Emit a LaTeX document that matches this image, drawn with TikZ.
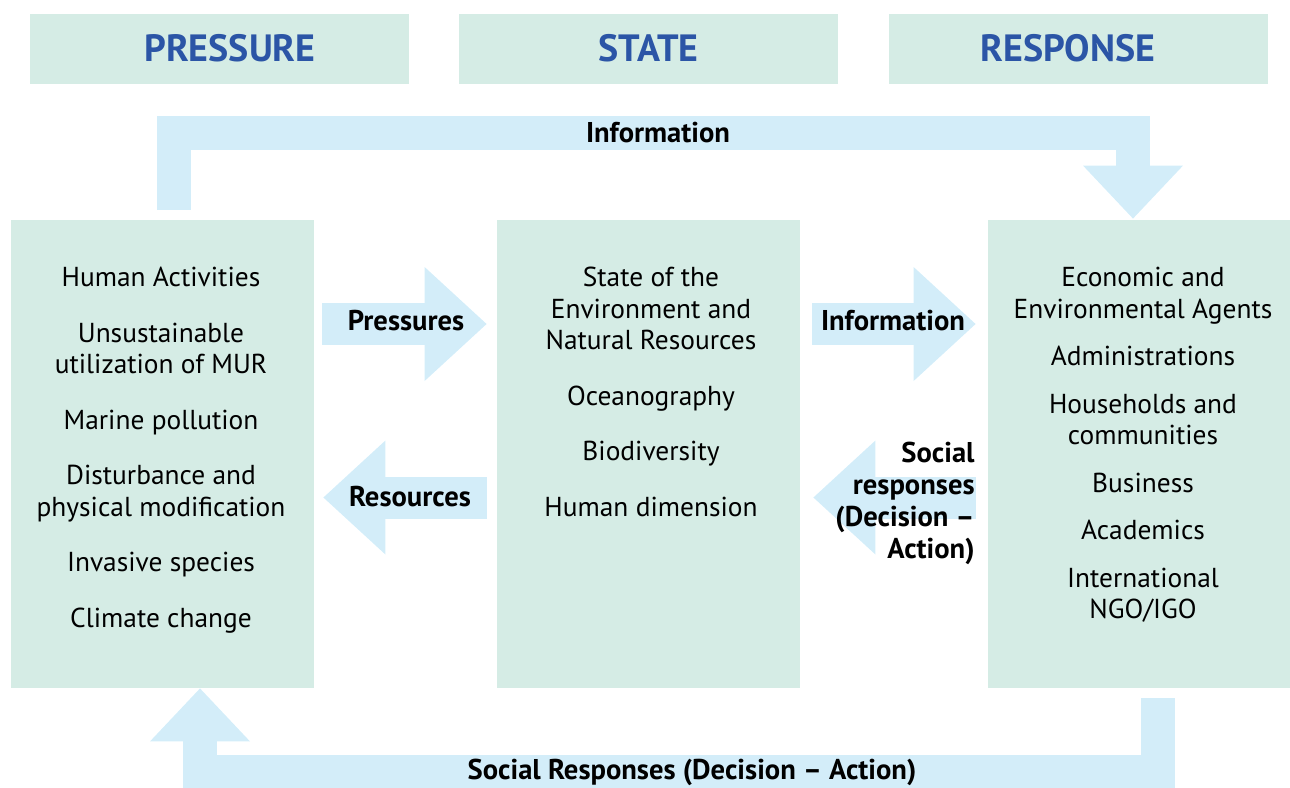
\documentclass[tikz,border=0pt]{standalone}
\usepackage{fontspec}
\setmainfont{PT Sans}
\usetikzlibrary{arrows.meta, calc}
\definecolor{panelgreen}{HTML}{D5ECE5}
\definecolor{flowblue}{HTML}{D3EDF9}
\definecolor{headblue}{HTML}{2B55A6}
\tikzstyle{header} = [rectangle, fill=panelgreen, minimum width=189.5pt, minimum height=35pt, font=\fontsize{19}{22}\selectfont\bfseries, text=headblue]
\tikzstyle{panel} = [rectangle, fill=panelgreen, minimum width=151.5pt, minimum height=234pt]
\tikzstyle{items} = [anchor=north, inner sep=0pt, align=center, font=\fontsize{13.7}{15.75}\selectfont]
\tikzstyle{flow} = [line width=21pt, draw=flowblue, -{Triangle[length=31pt, width=57pt, line width=0pt]}]
\tikzstyle{feedback} = [line width=17pt, draw=flowblue, line join=miter, -{Triangle[length=26.5pt, width=50pt, line width=0pt]}]
\tikzstyle{tag} = [font=\fontsize{14.3}{16}\selectfont\bfseries, inner sep=0pt]

\begin{document}
\begin{tikzpicture}[x=0.5pt, y=-0.5pt]
        \useasboundingbox (0,0) rectangle (1290,787);
        % column headers
        \node (pressure) [header] at (219.5,49) {\raisebox{1.5pt}{\hspace*{10.5pt}PRESSURE}};
        \node (state) [header] at (648.5,49) {\raisebox{1.5pt}{STATE}};
        \node (response) [header] at (1078.5,49) {\raisebox{1.5pt}{RESPONSE\hspace*{10.5pt}}};

        % the three panels
        \node (pbox) [panel] at (162.5,454) {};
        \node (sbox) [panel] at (648.5,454) {};
        \node (rbox) [panel] at (1139.5,454) {};

        \node (ptext) [items] at (161,267) {Human Activities\\[12pt]
            Unsustainable\\utilization of MUR\\[12pt]
            Marine pollution\\[12pt]
            Disturbance and\\physical modification\\[12pt]
            Invasive species\\[12pt]
            Climate change};
        \node (stext) [items] at (651,267) {State of the\\Environment and\\Natural Resources\\[12pt]
            Oceanography\\[12pt]
            Biodiversity\\[12pt]
            Human dimension};
        \node (rtext) [items] at (1143,267) {Economic and\\Environmental Agents\\[8pt]
            Administrations\\[8pt]
            Households and\\communities\\[8pt]
            Business\\[8pt]
            Academics\\[8pt]
            International\\NGO/IGO};

        % arrows between panels
        \draw [flow] ($(pbox.east)+(8,-130)$) -- ($(sbox.west)+(-10,-130)$);
        \draw [flow] ($(sbox.west)+(-10,43.5)$) -- ($(pbox.east)+(9,43.5)$);
        \draw [flow] ($(sbox.east)+(12,-130)$) -- ($(rbox.west)+(-12,-130)$);
        \draw [flow] ($(rbox.west)+(-12,43.5)$) -- ($(sbox.east)+(13,43.5)$);

        % feedback loops
        \coordinate (topbar) at (658,133);
        \coordinate (bottombar) at (692,772);
        \draw [feedback] ($(pbox.north)+(11.5,-10)$) |- (topbar) -| ($(rbox.north)+(-6.5,-1)$);
        \draw [feedback] ($(rbox.south)+(18.5,10)$) |- (bottombar) -| ($(pbox.south)+(37.5,0)$);

        % labels
        \node (toptag) [tag] at (topbar) {Information};
        \node (bottomtag) [tag] at (bottombar) {Social Responses (Decision -- Action)};
        \node (pressures) [tag] at (406,321) {Pressures};
        \node (resources) [tag] at (410,497) {Resources};
        \node (information) [tag] at (893,321) {Information};
        \node (social) [tag, anchor=east, align=right] at (975,503) {Social\\responses\\(Decision --\\Action)};
\end{tikzpicture}
\end{document}
